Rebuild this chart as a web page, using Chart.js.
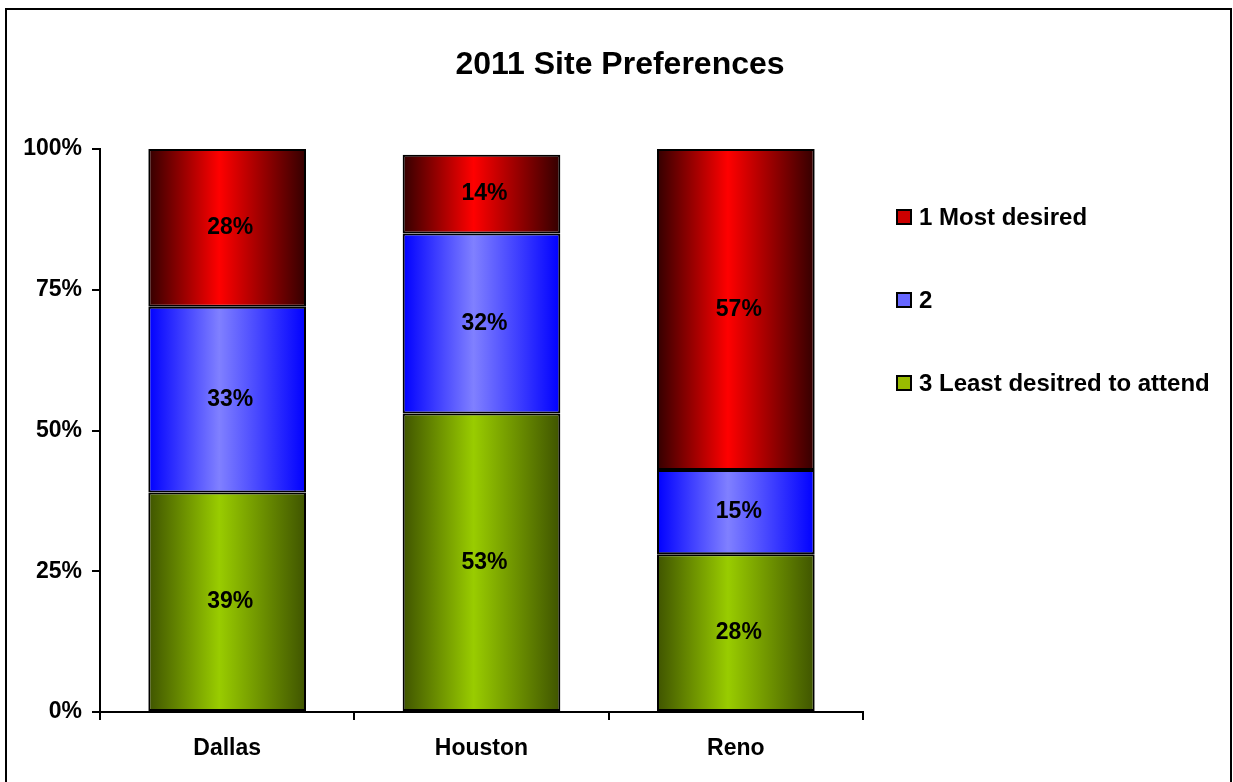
<!DOCTYPE html>
<html lang="en">
<head>
<meta charset="UTF-8" />
<title>2011 Site Preferences</title>
<script src="https://cdn.jsdelivr.net/npm/chart.js@4.4.0/dist/chart.umd.min.js"></script>
<style>
  body { margin: 0; background: #fff; }
  canvas { display: block; }
</style>
</head>
<body>
<canvas id="sites" width="1233" height="782"></canvas>
<script>
// data (percent of answers)
const sites = ['Dallas', 'Houston', 'Reno'];
const leastDesired = [39, 53, 28];
const secondChoice = [33, 32, 15];
const mostDesired = [28, 14, 57];
const seriesNames = ['3 Least desitred to attend', '2', '1 Most desired'];
const yTicks = [0, 25, 50, 75, 100];
const chartTitle = '2011 Site Preferences';

const FONT = '"Liberation Sans", Arial, sans-serif';
const BAR_PCT = 0.62;

// Excel style horizontal gradient: dark edges, light a bit left of centre
function shade(light, dark) {
  return function (ctx) {
    const chart = ctx.chart;
    const x = chart.scales && chart.scales.x;
    if (!chart.chartArea || !x || ctx.dataIndex === undefined) return light;
    const mid = x.getPixelForValue(ctx.dataIndex);
    const half = (x.width / sites.length) * BAR_PCT / 2;
    const g = chart.ctx.createLinearGradient(mid - half, 0, mid + half, 0);
    g.addColorStop(0, dark);
    g.addColorStop(0.45, light);
    g.addColorStop(1, dark);
    return g;
  };
}

const palette = [
  { light: '#99cc00', dark: '#3f5400', swatch: '#99bb00' },
  { light: '#8080ff', dark: '#0000ff', swatch: '#6666ff' },
  { light: '#ff0000', dark: '#330000', swatch: '#cc0000' }
];

// white page, black frame and the title centred on the whole picture
const frame = {
  id: 'frame',
  beforeDraw(chart) {
    const c = chart.ctx;
    c.save();
    c.fillStyle = '#fff';
    c.fillRect(0, 0, chart.width, chart.height);
    c.strokeStyle = '#000';
    c.lineWidth = 2;
    c.strokeRect(6, 9, 1225, 800);
    c.fillStyle = '#000';
    c.font = 'bold 32px ' + FONT;
    c.textAlign = 'center';
    c.textBaseline = 'middle';
    c.fillText(chartTitle, 620, 65);
    c.restore();
  }
};

const labels = {
  id: 'labels',
  afterDatasetsDraw(chart) {
    const c = chart.ctx;
    c.save();
    c.font = 'bold 23px ' + FONT;
    c.fillStyle = '#000';
    c.textAlign = 'center';
    c.textBaseline = 'middle';
    chart.data.datasets.forEach((ds, i) => {
      chart.getDatasetMeta(i).data.forEach((bar, j) => {
        c.fillText(ds.data[j] + '%', bar.x + 3, (bar.y + bar.base) / 2);
      });
    });
    c.restore();
  }
};

// legend drawn by hand, Excel puts it high up on the right
const sideLegend = {
  id: 'sideLegend',
  afterDraw(chart) {
    const c = chart.ctx;
    c.save();
    c.font = 'bold 24px ' + FONT;
    c.textBaseline = 'middle';
    const n = chart.data.datasets.length;
    for (let k = 0; k < n; k++) {
      const i = n - 1 - k;
      const y = 217 + k * 83;
      c.fillStyle = palette[i].swatch;
      c.fillRect(897, y - 7, 14, 14);
      c.strokeStyle = '#000';
      c.lineWidth = 2;
      c.strokeRect(897, y - 7, 14, 14);
      c.fillStyle = '#000';
      c.fillText(chart.data.datasets[i].label, 919, y + 1);
    }
    c.restore();
  }
};

const series = [leastDesired, secondChoice, mostDesired];

new Chart(document.getElementById('sites'), {
  type: 'bar',
  data: {
    labels: sites,
    datasets: series.map((vals, i) => ({
      label: seriesNames[i],
      data: vals,
      backgroundColor: shade(palette[i].light, palette[i].dark),
      borderColor: '#000',
      borderWidth: 2,
      borderSkipped: false,
      categoryPercentage: 1,
      barPercentage: BAR_PCT
    }))
  },
  options: {
    responsive: false,
    animation: false,
    layout: { padding: { left: 0, right: 370, top: 149, bottom: 0 } },
    plugins: {
      legend: { display: false },
      tooltip: { enabled: false },
      title: { display: false }
    },
    scales: {
      x: {
        stacked: true,
        grid: { offset: true, drawOnChartArea: false, tickLength: 8, color: '#000', lineWidth: 2 },
        border: { color: '#000', width: 2 },
        ticks: { color: '#000', padding: 15, font: { family: FONT, size: 23, weight: 'bold' } },
        afterFit(scale) { scale.height = 70; }
      },
      y: {
        stacked: true,
        min: 0,
        max: 100,
        afterBuildTicks(scale) { scale.ticks = yTicks.map(v => ({ value: v })); },
        grid: { drawOnChartArea: false, tickLength: 8, color: '#000', lineWidth: 2 },
        border: { color: '#000', width: 2 },
        ticks: {
          color: '#000',
          padding: 10,
          font: { family: FONT, size: 23, weight: 'bold' },
          callback: v => v + '%'
        },
        afterFit(scale) { scale.width = 100; }
      }
    }
  },
  plugins: [frame, labels, sideLegend]
});
</script>
</body>
</html>
